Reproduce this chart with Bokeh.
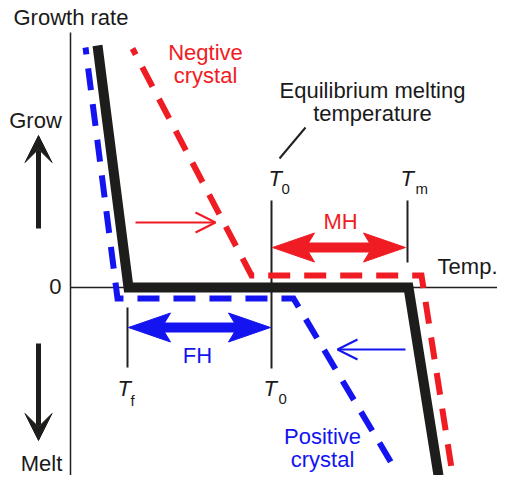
from bokeh.plotting import figure
from bokeh.models import Range1d, Arrow, VeeHead, OpenHead
from bokeh.embed import file_html
from bokeh.resources import INLINE
from bokeh.core.properties import value

# ---- data (temperature / growth rate in arbitrary units) ----
# Equilibrium (black) curve
eq_temp = [27, 58, 338, 368]
eq_rate = [242, 0, 0, -188]
# Negative crystal (red, dashed)
neg_temp = [62, 181, 351, 382]
neg_rate = [239, 12, 12, -187]
# Positive crystal (blue, dashed)
pos_temp = [15, 47, 223, 326]
pos_rate = [240, -11, -11, -184]
# characteristic temperatures
T_f = 57
T_0 = 201
T_m = 337

RED = "#f01c24"
BLUE = "#1414f0"
BLACK = "#1d1d1b"
FONT = "Liberation Sans"
FS = 22

p = figure(width=497, height=475, x_range=Range1d(-70, 427), y_range=Range1d(-188, 287),
           output_backend="svg", toolbar_location=None, x_axis_type=None, y_axis_type=None,
           min_border=0)
p.outline_line_color = None
p.grid.visible = False

# axes
p.segment(x0=[0, 0], y0=[255, 0], x1=[0, 443], y1=[-204, 0], line_color="#231f20", line_width=1.5)

# characteristic temperature ticks
p.segment(x0=[T_f, T_0, T_m], y0=[-20, 87, 87], x1=[T_f, T_0, T_m], y1=[-80, -81, 25],
          line_color="#231f20", line_width=2)
# leader line
p.segment(x0=[T_0 + 8], y0=[129], x1=[T_0 + 34], y1=[160], line_color="#231f20", line_width=2)

# curves
p.line(eq_temp, eq_rate, line_color=BLACK, line_width=10, line_join="miter")
p.line(neg_temp, neg_rate, line_color=RED, line_width=6, line_dash="22 14", line_dash_offset=15,
       line_join="miter")
p.line(pos_temp, pos_rate, line_color=BLUE, line_width=6, line_dash="22 14", line_dash_offset=15,
       line_join="miter")

# thin shift arrows
p.add_layout(Arrow(end=OpenHead(size=20, line_color=RED, line_width=2), x_start=65, y_start=65,
                   x_end=145, y_end=65, line_color=RED, line_width=2))
p.add_layout(Arrow(end=OpenHead(size=20, line_color=BLUE, line_width=2), x_start=335, y_start=-62,
                   x_end=267, y_end=-62, line_color=BLUE, line_width=2))

# Grow / Melt arrows
p.add_layout(Arrow(end=VeeHead(size=27, fill_color=BLACK, line_color=BLACK), x_start=-32, y_start=59,
                   x_end=-32, y_end=152, line_color=BLACK, line_width=5))
p.add_layout(Arrow(end=VeeHead(size=27, fill_color=BLACK, line_color=BLACK), x_start=-32, y_start=-56,
                   x_end=-32, y_end=-153, line_color=BLACK, line_width=5))


def double_arrow(x1, x2, y, L=42, N=36, W=29, S=9):
    xs = [x1, x1 + L, x1 + N, x2 - N, x2 - L, x2, x2 - L, x2 - N, x1 + N, x1 + L]
    ys = [y, y + W / 2, y + S / 2, y + S / 2, y + W / 2, y, y - W / 2, y - S / 2, y - S / 2, y - W / 2]
    return xs, ys


mx, my = double_arrow(T_0 + 1, T_m - 2, 40)
fx, fy = double_arrow(T_f + 1, T_0 - 1, -40)
p.patch(mx, my, fill_color=RED, line_color=RED, line_width=1)
p.patch(fx, fy, fill_color=BLUE, line_color=BLUE, line_width=1)


def txt(x, y, s, color="#1a1a1a", align="left", size=FS, style="normal"):
    # compensate the renderer's baseline placement
    y = y + round(0.33 * size)
    p.text(x=[x], y=[y], text=[s], text_color=color, text_align=align, text_baseline="alphabetic",
           text_font=value(FONT), text_font_size=f"{size}px", text_font_style=style)


txt(-57, 263, "Growth rate")
txt(-35, 160, "Grow", align="center")
txt(-29, -183, "Melt", align="center")
txt(-9, -6, "0", align="right")
txt(427, 14, "Temp.", align="right")
txt(302, 190, "Equilibrium melting", align="center")
txt(302, 167, "temperature", align="center")
txt(135, 228, "Negtive", color=RED, align="center")
txt(135, 205, "crystal", color=RED, align="center")
txt(252, -156, "Positive", color=BLUE, align="center")
txt(252, -179, "crystal", color=BLUE, align="center")
txt(270, 59, "MH", color=RED, align="center")
txt(127, -75, "FH", color=BLUE, align="center")

# T labels
txt(T_0 - 3, 102, "T", style="italic")
txt(T_0 + 10, 94, "0", size=15)
txt(T_m - 7, 102, "T", style="italic")
txt(T_m + 8, 94, "m", size=15)
txt(T_0 - 8, -108, "T", style="italic")
txt(T_0 + 7, -116, "0", size=15)
txt(T_f - 10, -108, "T", style="italic")
txt(T_f + 3, -118, "f", size=15)

open("out.html", "w").write(file_html(p, INLINE))
